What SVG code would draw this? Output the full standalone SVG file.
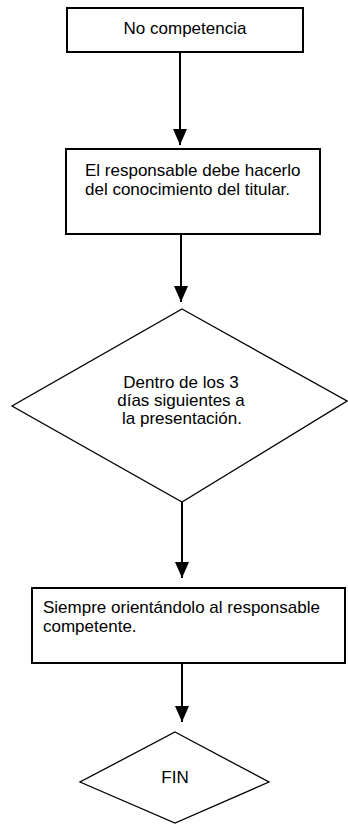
<svg xmlns="http://www.w3.org/2000/svg" width="348" height="833" viewBox="0 0 348 833">
<style>
.box{fill:#fff;stroke:#000;stroke-width:2}
.dia{fill:#fff;stroke:#000;stroke-width:1.3}
.t{font-family:"Liberation Sans",Arial,sans-serif;font-size:17px;fill:#000}
.c{text-anchor:middle}
.conn line{stroke:#000;stroke-width:2}
</style>
<defs>
<marker id="ah" viewBox="0 0 16 14" refX="16" refY="7" markerWidth="16" markerHeight="14" markerUnits="userSpaceOnUse" orient="auto">
<path d="M0,0 L16,7 L0,14 z" fill="#000"/>
</marker>
</defs>
<g id="connectors" class="conn">
<line x1="180" y1="52" x2="180" y2="145" marker-end="url(#ah)"/>
<line x1="181" y1="234" x2="181" y2="302" marker-end="url(#ah)"/>
<line x1="182" y1="502" x2="182" y2="578" marker-end="url(#ah)"/>
<line x1="182" y1="663" x2="182" y2="722" marker-end="url(#ah)"/>
</g>
<g id="n1">
<rect class="box" x="67" y="8" width="236" height="44"/>
<text class="t c" x="185" y="34">No competencia</text>
</g>
<g id="n2">
<rect class="box" x="66" y="149" width="254" height="85"/>
<text class="t" x="85" y="176">El responsable debe hacerlo</text>
<text class="t" x="85" y="195">del conocimiento del titular.</text>
</g>
<g id="n3">
<polygon class="dia" points="182,309 347,401 182,502 12,406"/>
<text class="t c" x="181" y="388">Dentro de los 3</text>
<text class="t c" x="181" y="406">días siguientes a</text>
<text class="t c" x="182" y="424">la presentación.</text>
</g>
<g id="n4">
<rect class="box" x="32" y="588" width="313" height="75"/>
<text class="t" x="43" y="613">Siempre orientándolo al responsable</text>
<text class="t" x="43" y="632">competente.</text>
</g>
<g id="n5">
<polygon class="dia" points="175,732 269,782 175,823 80,782"/>
<text class="t c" x="175" y="783">FIN</text>
</g>
</svg>
